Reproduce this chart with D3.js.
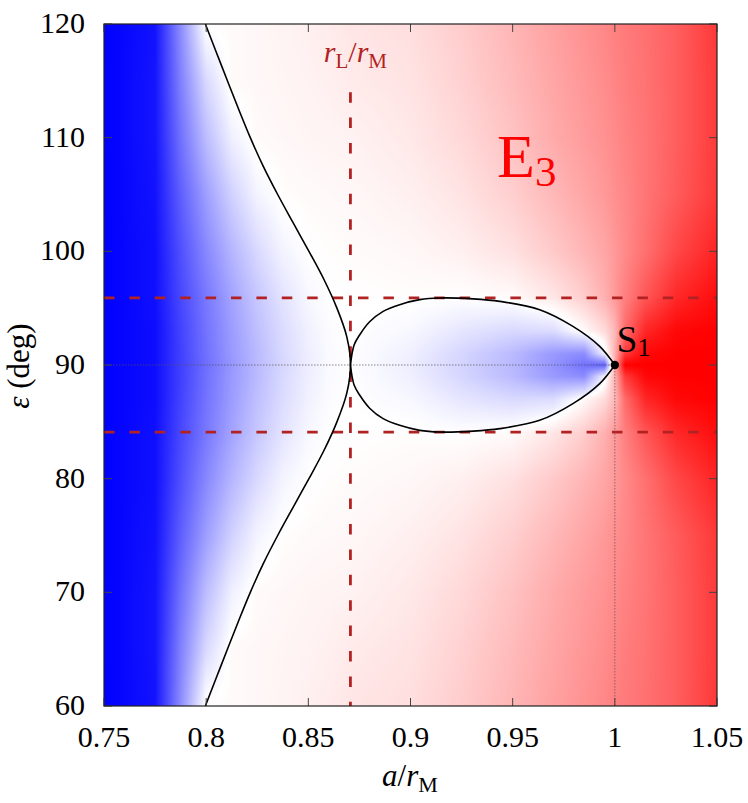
<!DOCTYPE html>
<html lang='en'>

<head>
    <meta charset='UTF-8'>
    <title></title>
    <script src="https://cdn.jsdelivr.net/npm/d3@7/dist/d3.min.js"></script>
    <style>
        body { margin: 0; background: #fff; }
    </style>
</head>

<body>
    <svg class="chart"></svg>
</body>
<script>
    /**
     * data
     */
    const xTicks = [0.75, 0.8, 0.85, 0.9, 0.95, 1, 1.05];
    const yTicks = [60, 70, 80, 90, 100, 110, 120];

    // colour field: value in [-1, 1] (blue < 0 < red), rows = epsGrid, cols = aGrid
    const aGrid = [0.75, 0.775, 0.7875, 0.8, 0.8125, 0.825, 0.8375, 0.85, 0.86, 0.87,
        0.9, 0.925, 0.95, 0.97, 0.985, 0.995, 1.0, 1.005, 1.015, 1.03, 1.05];
    const epsGrid = [120, 115, 110, 105, 100, 96, 93, 91, 90, 89, 87, 84, 80, 75, 70, 65, 60];
    const field = [
        [-1, -0.93, -0.45, 0.01, 0.02, 0.03, 0.045, 0.06, 0.08, 0.10, 0.13, 0.20, 0.29, 0.37, 0.43, 0.47, 0.50, 0.52, 0.56, 0.63, 0.78],
        [-1, -0.92, -0.50, -0.15, 0.02, 0.03, 0.04, 0.05, 0.06, 0.08, 0.11, 0.18, 0.27, 0.35, 0.41, 0.45, 0.48, 0.51, 0.55, 0.63, 0.77],
        [-1, -0.92, -0.56, -0.26, -0.06, 0.02, 0.03, 0.04, 0.045, 0.05, 0.09, 0.15, 0.24, 0.33, 0.39, 0.43, 0.46, 0.49, 0.54, 0.63, 0.77],
        [-1, -0.93, -0.63, -0.38, -0.18, -0.045, 0.01, 0.02, 0.025, 0.03, 0.06, 0.11, 0.19, 0.28, 0.35, 0.40, 0.44, 0.47, 0.54, 0.64, 0.78],
        [-1, -0.94, -0.69, -0.47, -0.29, -0.15, -0.046, 0.0, 0.01, 0.015, 0.03, 0.06, 0.12, 0.21, 0.29, 0.35, 0.40, 0.46, 0.56, 0.72, 0.86],
        [-1, -0.94, -0.72, -0.53, -0.36, -0.22, -0.11, -0.03, -0.002, 0.003, 0.01, 0.00, 0.02, 0.10, 0.20, 0.31, 0.40, 0.50, 0.66, 0.84, 0.95],
        [-1, -0.95, -0.74, -0.55, -0.39, -0.25, -0.14, -0.056, -0.014, 0.0, -0.03, -0.10, -0.15, -0.14, 0.02, 0.14, 0.28, 0.58, 0.85, 0.97, 1],
        [-1, -0.95, -0.75, -0.56, -0.40, -0.27, -0.15, -0.067, -0.02, 0.0, -0.06, -0.16, -0.27, -0.40, -0.45, -0.05, 0.30, 0.78, 0.97, 1, 1],
        [-1, -0.95, -0.75, -0.57, -0.41, -0.27, -0.16, -0.07, -0.022, 0.0, -0.07, -0.17, -0.28, -0.42, -0.55, -0.62, 0.35, 1, 1, 1, 1],
        [-1, -0.95, -0.75, -0.56, -0.40, -0.27, -0.15, -0.067, -0.02, 0.0, -0.06, -0.16, -0.27, -0.40, -0.45, -0.05, 0.30, 0.78, 0.97, 1, 1],
        [-1, -0.95, -0.74, -0.55, -0.39, -0.25, -0.14, -0.056, -0.014, 0.0, -0.03, -0.10, -0.15, -0.14, 0.02, 0.14, 0.28, 0.58, 0.85, 0.97, 1],
        [-1, -0.94, -0.72, -0.53, -0.36, -0.22, -0.11, -0.03, -0.002, 0.003, 0.01, 0.00, 0.02, 0.10, 0.20, 0.31, 0.40, 0.50, 0.66, 0.84, 0.95],
        [-1, -0.94, -0.69, -0.47, -0.29, -0.15, -0.046, 0.0, 0.01, 0.015, 0.03, 0.06, 0.12, 0.21, 0.29, 0.35, 0.40, 0.46, 0.56, 0.72, 0.86],
        [-1, -0.93, -0.63, -0.38, -0.18, -0.045, 0.01, 0.02, 0.025, 0.03, 0.06, 0.11, 0.19, 0.28, 0.35, 0.40, 0.44, 0.47, 0.54, 0.64, 0.78],
        [-1, -0.92, -0.56, -0.26, -0.06, 0.02, 0.03, 0.04, 0.045, 0.05, 0.09, 0.15, 0.24, 0.33, 0.39, 0.43, 0.46, 0.49, 0.54, 0.63, 0.77],
        [-1, -0.92, -0.50, -0.15, 0.02, 0.03, 0.04, 0.05, 0.06, 0.08, 0.11, 0.18, 0.27, 0.35, 0.41, 0.45, 0.48, 0.51, 0.55, 0.63, 0.77],
        [-1, -0.93, -0.45, 0.01, 0.02, 0.03, 0.045, 0.06, 0.08, 0.10, 0.13, 0.20, 0.29, 0.37, 0.43, 0.47, 0.50, 0.52, 0.56, 0.63, 0.78]
    ];

    // zero contour, left branch (a, eps), top to bottom
    const branchE = [120, 117.5, 115, 112.5, 110, 107.5, 105, 102.5, 100, 97.5, 95, 92.5, 91, 90,
        89, 87.5, 85, 82.5, 80, 77.5, 75, 72.5, 70, 67.5, 65, 62.5, 60];
    const branchA = [0.7996, 0.8050, 0.8104, 0.8159, 0.8216, 0.8279, 0.8350, 0.8426, 0.8503, 0.8577, 0.8640, 0.8688, 0.8703, 0.8706,
        0.8703, 0.8688, 0.8640, 0.8577, 0.8503, 0.8426, 0.8350, 0.8279, 0.8216, 0.8159, 0.8104, 0.8050, 0.7996];
    // zero contour, closed lobe between r_L and S1 (upper half / lower half)
    const lobeA = [0.8706, 0.8724, 0.8751, 0.8800, 0.8866, 0.8947, 0.9045, 0.9143, 0.9306, 0.9437, 0.9632, 0.9795, 0.9926, 1.0];
    const lobeUpE = [90, 91.76, 92.64, 93.8, 94.72, 95.31, 95.75, 95.9, 95.82, 95.6, 94.87, 93.4, 91.64, 90];
    const lobeLowE = [90, 88.24, 87.36, 86.2, 85.28, 84.69, 84.25, 84.1, 84.18, 84.4, 85.13, 86.6, 88.36, 90];

    const rL = 0.8706;           // r_L / r_M
    const epsBand = [95.9, 84.1];
    const s1 = [1.0, 90];

    /**
     * basic setup
     */
    const svgWidth = 748;
    const svgHeight = 803;
    const margin = { left: 104, top: 24, right: 31, bottom: 97 };
    const w = svgWidth - margin.left - margin.right;
    const h = svgHeight - margin.top - margin.bottom;
    const serif = "'Liberation Serif', 'Times New Roman', 'DejaVu Serif', serif";

    const svg = d3.select(".chart")
        .attr("width", svgWidth)
        .attr("height", svgHeight)
        .attr("font-family", serif)
        .style("font-family", serif);

    const x = d3.scaleLinear().domain([0.75, 1.05]).range([0, w]);
    const y = d3.scaleLinear().domain([60, 120]).range([h, 0]);

    const g = svg.append("g").attr("transform", `translate(${margin.left},${margin.top})`);

    /**
     * colour field drawn on a canvas, then put into the svg as an image
     */
    const col = d3.scaleLinear().domain(aGrid).range(d3.range(aGrid.length));
    const row = d3.scaleLinear().domain(epsGrid).range(d3.range(epsGrid.length));
    const colour = d3.scaleLinear().domain([-1, 0, 1]).range(["#0000ff", "#ffffff", "#ff0000"]).clamp(true);

    function valueAt(a, e) {
        const fi = col(a), fj = row(e);
        const i = Math.min(Math.floor(fi), aGrid.length - 2), j = Math.min(Math.floor(fj), epsGrid.length - 2);
        const u = fi - i, v = fj - j;
        return field[j][i] * (1 - u) * (1 - v) + field[j][i + 1] * u * (1 - v)
            + field[j + 1][i] * (1 - u) * v + field[j + 1][i + 1] * u * v;
    }

    const canvas = document.createElement("canvas");
    canvas.width = w;
    canvas.height = h;
    const ctx = canvas.getContext("2d");
    const img = ctx.createImageData(w, h);
    for (let py = 0; py < h; py++) {
        const e = y.invert(py + 0.5);
        for (let px = 0; px < w; px++) {
            const c = d3.rgb(colour(valueAt(x.invert(px + 0.5), e)));
            const k = (py * w + px) * 4;
            img.data[k] = c.r; img.data[k + 1] = c.g; img.data[k + 2] = c.b; img.data[k + 3] = 255;
        }
    }
    ctx.putImageData(img, 0, 0);
    g.append("image")
        .attr("width", w).attr("height", h)
        .attr("preserveAspectRatio", "none")
        .attr("href", canvas.toDataURL());

    /**
     * guide lines
     */
    const dashCol = "#b22222";
    g.selectAll(".band").data(epsBand).join("line")
        .attr("x1", 0).attr("x2", w)
        .attr("y1", d => y(d)).attr("y2", d => y(d))
        .attr("stroke", dashCol).attr("stroke-width", 2.8).attr("stroke-dasharray", "10.5,14.9");
    g.append("line")
        .attr("x1", x(rL)).attr("x2", x(rL))
        .attr("y1", y(114)).attr("y2", h)
        .attr("stroke", dashCol).attr("stroke-width", 2.8).attr("stroke-dasharray", "10.5,14.9");

    // thin dotted lines to S1
    g.append("line")
        .attr("x1", 0).attr("x2", x(s1[0])).attr("y1", y(s1[1])).attr("y2", y(s1[1]))
        .attr("stroke", "#555").attr("stroke-width", 0.7).attr("stroke-dasharray", "1.5,1.5");
    g.append("line")
        .attr("x1", x(s1[0])).attr("x2", x(s1[0])).attr("y1", y(s1[1])).attr("y2", h)
        .attr("stroke", "#555").attr("stroke-width", 0.7).attr("stroke-dasharray", "1.5,1.5");

    /**
     * zero contour
     */
    const branchLine = d3.line().x(d => x(d[0])).y(d => y(d[1])).curve(d3.curveMonotoneY);
    g.append("path")
        .attr("d", branchLine(d3.zip(branchA, branchE)))
        .attr("fill", "none").attr("stroke", "#000").attr("stroke-width", 1.6);

    const lobeLine = d3.line().x(d => x(d[0])).y(d => y(d[1])).curve(d3.curveCatmullRom.alpha(0.5));
    g.selectAll(".lobe").data([d3.zip(lobeA, lobeUpE), d3.zip(lobeA, lobeLowE)]).join("path")
        .attr("d", lobeLine)
        .attr("fill", "none").attr("stroke", "#000").attr("stroke-width", 1.6);

    g.append("circle")
        .attr("cx", x(s1[0])).attr("cy", y(s1[1])).attr("r", 4.2).attr("fill", "#000");

    /**
     * frame and ticks (mirrored on all four sides)
     */
    const tickLen = 8;
    const tickCol = "#444";
    g.selectAll(".xt").data(xTicks).join("g").each(function (d) {
        const s = d3.select(this);
        s.append("line").attr("x1", x(d)).attr("x2", x(d)).attr("y1", h).attr("y2", h - tickLen).attr("stroke", tickCol);
        s.append("line").attr("x1", x(d)).attr("x2", x(d)).attr("y1", 0).attr("y2", tickLen).attr("stroke", tickCol);
    });
    g.selectAll(".yt").data(yTicks).join("g").each(function (d) {
        const s = d3.select(this);
        s.append("line").attr("x1", 0).attr("x2", tickLen).attr("y1", y(d)).attr("y2", y(d)).attr("stroke", tickCol);
        s.append("line").attr("x1", w).attr("x2", w - tickLen).attr("y1", y(d)).attr("y2", y(d)).attr("stroke", tickCol);
    });
    g.append("rect").attr("width", w).attr("height", h)
        .attr("fill", "none").attr("stroke", "#222").attr("stroke-width", 1.2);

    const fmt = d => String(d);
    g.selectAll(".xl").data(xTicks).join("text")
        .attr("x", d => x(d)).attr("y", h + 41)
        .attr("text-anchor", "middle").attr("font-size", 30)
        .text(fmt);
    g.selectAll(".yl").data(yTicks).join("text")
        .attr("x", -19).attr("y", d => y(d) + 9)
        .attr("text-anchor", "end").attr("font-size", 30)
        .text(fmt);

    /**
     * labels
     */
    const xl = svg.append("text").attr("x", 410).attr("y", 786).attr("text-anchor", "middle").attr("font-size", 31);
    xl.append("tspan").attr("font-style", "italic").text("a");
    xl.append("tspan").text("/");
    xl.append("tspan").attr("font-style", "italic").text("r");
    xl.append("tspan").attr("font-size", 22).attr("dy", 6).text("M");

    const yl = svg.append("text")
        .attr("transform", "translate(29,366) rotate(-90)")
        .attr("text-anchor", "middle").attr("font-size", 31);
    yl.append("tspan").attr("font-style", "italic").text("ε");
    yl.append("tspan").text(" (deg)");

    const rl = g.append("text").attr("x", x(rL) + 5).attr("y", 38).attr("text-anchor", "middle")
        .attr("font-size", 30).attr("fill", dashCol);
    rl.append("tspan").attr("font-style", "italic").text("r");
    rl.append("tspan").attr("font-size", 21).attr("dy", 6).text("L");
    rl.append("tspan").attr("dy", -6).text("/");
    rl.append("tspan").attr("font-style", "italic").text("r");
    rl.append("tspan").attr("font-size", 21).attr("dy", 6).text("M");

    const e3 = g.append("text").attr("x", 393).attr("y", 153).attr("font-size", 62).attr("fill", "#ff0000");
    e3.append("tspan").text("E");
    e3.append("tspan").attr("font-size", 43).attr("dy", 9).text("3");

    const s1l = g.append("text").attr("x", x(s1[0]) + 2).attr("y", y(s1[1]) - 13).attr("font-size", 37).attr("fill", "#000");
    s1l.append("tspan").text("S");
    s1l.append("tspan").attr("font-size", 26).attr("dy", 4).text("1");
</script>

</html>
